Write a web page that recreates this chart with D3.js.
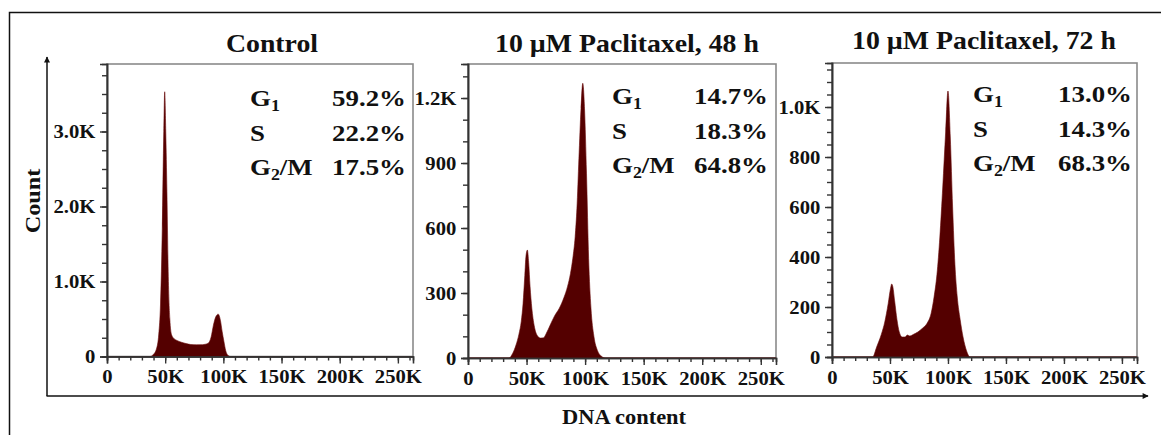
<!DOCTYPE html>
<html><head><meta charset="utf-8">
<script src="https://cdn.jsdelivr.net/npm/d3@7"></script>
<style>body{margin:0;background:#fff}svg{display:block}text{font-family:"Liberation Serif","Times New Roman",serif;font-weight:bold;fill:#111}</style>
</head><body><svg id="c" width="1161" height="435"></svg>
<script>
// ---- data ----
const titles = ["Control", "10 \u00B5M Paclitaxel, 48 h", "10 \u00B5M Paclitaxel, 72 h"];
const phaseLabels = ["G1", "S", "G2/M"];
const controlPct = ["59.2%", "22.2%", "17.5%"];
const p48Pct = ["14.7%", "18.3%", "64.8%"];
const p72Pct = ["13.0%", "14.3%", "68.3%"];
const xTicks = [0, 50000, 100000, 150000, 200000, 250000];
const xTickLabels = ["0", "50K", "100K", "150K", "200K", "250K"];
const controlYTicks = [0, 1000, 2000, 3000];
const controlYLabels = ["0", "1.0K", "2.0K", "3.0K"];
const p48YTicks = [0, 300, 600, 900, 1200];
const p48YLabels = ["0", "300", "600", "900", "1.2K"];
const p72YTicks = [0, 200, 400, 600, 800, 1000];
const p72YLabels = ["0", "200", "400", "600", "800", "1.0K"];
// histogram: DNA content (K) and counts
const controlX = [0, 37, 40, 42.5, 44.5, 46, 47.5, 48.8, 49.6, 50.5, 51.5, 52.5, 54, 55.5, 57.5, 60, 64, 68, 72, 77, 82, 87, 89.5, 91.5, 93.5, 95.6, 97.5, 99, 100.5, 102, 104, 106, 263];
const controlY = [0, 0, 30, 100, 300, 700, 1700, 3000, 3530, 3000, 2200, 1200, 500, 290, 240, 215, 190, 172, 160, 156, 158, 178, 260, 420, 530, 565, 480, 330, 200, 80, 15, 0, 0];
const p48X = [0, 35, 38, 41, 43.5, 45.5, 47, 48.5, 49.5, 50.7, 51.8, 53, 54.5, 56.5, 59, 62, 64.5, 67, 70, 74, 78, 82, 85, 87.5, 89.5, 91.5, 93, 94.7, 96.5, 98, 99.5, 101.2, 103, 105, 107.5, 110.5, 114, 117, 263];
const p48Y = [0, 0, 20, 60, 110, 170, 250, 380, 470, 498, 440, 330, 230, 150, 105, 92, 93, 115, 150, 195, 230, 280, 330, 390, 460, 560, 690, 920, 1150, 1268, 1150, 850, 460, 230, 100, 35, 8, 0, 0];
const p72X = [0, 35, 38.5, 42.5, 45.5, 48.5, 50.5, 51.5, 52.5, 54, 56, 58, 60.5, 63, 65, 67, 70, 74, 78, 82, 85.5, 88, 90.5, 93, 95.5, 98, 100, 102, 104, 106, 108, 110.5, 113, 116, 119, 263];
const p72Y = [0, 0, 40, 90, 140, 215, 275, 292, 280, 225, 150, 100, 80, 80, 88, 84, 90, 100, 115, 135, 175, 240, 330, 480, 680, 900, 1064, 880, 600, 370, 240, 150, 80, 25, 0, 0];

const panels = [
  {title: titles[0], pct: controlPct, hx: controlX, hy: controlY, yt: controlYTicks, yl: controlYLabels, minor: 250, ymax: 3900,
   L: 107, R: 413, T: 64, B: 356.5, tx: 272, ty: 52, ax: 250, vx: 406, ay: 106},
  {title: titles[1], pct: p48Pct, hx: p48X, hy: p48Y, yt: p48YTicks, yl: p48YLabels, minor: 100, ymax: 1357,
   L: 468, R: 776, T: 64, B: 358, tx: 627, ty: 52, ax: 612, vx: 768, ay: 104},
  {title: titles[2], pct: p72Pct, hx: p72X, hy: p72Y, yt: p72YTicks, yl: p72YLabels, minor: 50, ymax: 1176,
   L: 832, R: 1137, T: 63, B: 357, tx: 984, ty: 49, ax: 973, vx: 1132, ay: 102}
];

const svg = d3.select("#c");
function stext(x, y, size, sx, anchor) {
  return svg.append("text").attr("transform", `translate(${x},${y}) scale(${sx},1)`)
    .attr("font-size", size).attr("text-anchor", anchor || "start");
}
// outer frame (top & left)
svg.append("path").attr("d", "M9.5,436 V12.5 H1162").attr("fill", "none").attr("stroke", "#111").attr("stroke-width", 1.5);

// arrows
const defs = svg.append("defs");
defs.append("marker").attr("id", "ah").attr("viewBox", "0 0 10 10").attr("refX", 9).attr("refY", 5)
  .attr("markerWidth", 8).attr("markerHeight", 6).attr("orient", "auto-start-reverse").attr("markerUnits", "userSpaceOnUse")
  .append("path").attr("d", "M0,0 L10,5 L0,10 z").attr("fill", "#111");
svg.append("line").attr("x1", 47).attr("y1", 396).attr("x2", 47).attr("y2", 57).attr("stroke", "#111").attr("stroke-width", 1.5).attr("marker-end", "url(#ah)");
svg.append("line").attr("x1", 46.5).attr("y1", 396).attr("x2", 1148).attr("y2", 396).attr("stroke", "#111").attr("stroke-width", 1.5).attr("marker-end", "url(#ah)");

svg.append("text").attr("transform", "translate(40,201) rotate(-90) scale(1.1,1)").attr("text-anchor", "middle").attr("font-size", 22).text("Count");
stext(624, 424, 21, 1.07, "middle").text("DNA content");

panels.forEach(p => {
  const x = d3.scaleLinear().domain([0, 263000]).range([p.L, p.R]);
  const y = d3.scaleLinear().domain([0, p.ymax]).range([p.B, p.T]);
  const g = svg.append("g");
  g.append("rect").attr("x", p.L).attr("y", p.T).attr("width", p.R - p.L).attr("height", p.B - p.T)
    .attr("fill", "none").attr("stroke", "#8a8a8a").attr("stroke-width", 1.6);
  const area = d3.area().x((d, i) => x(p.hx[i] * 1000)).y0(y(0)).y1((d, i) => y(d)).curve(d3.curveMonotoneX);
  g.append("path").datum(p.hy).attr("d", area).attr("fill", "#540000").attr("stroke", "#680808").attr("stroke-width", 0.6);

  // minor ticks
  const yMinor = d3.range(0, p.ymax + 1, p.minor);
  g.append("g").attr("transform", `translate(${p.L},0)`)
    .call(d3.axisLeft(y).tickValues(yMinor).tickSize(5).tickFormat(""));
  g.append("g").attr("transform", `translate(${p.L},0)`)
    .call(d3.axisLeft(y).tickValues(p.yt).tickSize(7).tickPadding(4).tickFormat((d, i) => p.yl[i]));
  const xMinor = d3.range(0, 263000, 10000);
  g.append("g").attr("transform", `translate(0,${p.B})`)
    .call(d3.axisBottom(x).tickValues(xMinor).tickSize(4).tickFormat(""));
  g.append("g").attr("transform", `translate(0,${p.B})`)
    .call(d3.axisBottom(x).tickValues(xTicks).tickSize(7).tickPadding(6).tickFormat((d, i) => xTickLabels[i]));
  g.selectAll(".domain").attr("stroke", "#333").attr("stroke-width", 1.6);
  g.selectAll(".tick line").attr("stroke", "#333").attr("stroke-width", 1.4);
  g.selectAll(".tick text").attr("font-family", '"Liberation Serif","Times New Roman",serif')
    .attr("font-weight", "bold").attr("font-size", 19.5).attr("fill", "#111").attr("transform", "scale(1.06,1)");

  stext(p.tx, p.ty, 26, 1.07, "middle").text(p.title);

  [0, 1, 2].forEach(i => {
    const yy = p.ay + i * 34.5;
    const t = stext(p.ax, yy, 24, 1.12);
    if (i === 0) {
      t.append("tspan").text("G");
      t.append("tspan").attr("font-size", 16).attr("dy", 5).text("1");
    } else if (i === 1) {
      t.text("S");
    } else {
      t.append("tspan").text("G");
      t.append("tspan").attr("font-size", 16).attr("dy", 5).text("2");
      t.append("tspan").attr("dy", -5).text("/M");
    }
    stext(p.vx, yy, 24, 1.12, "end").text(p.pct[i]);
  });
});
</script></body></html>
